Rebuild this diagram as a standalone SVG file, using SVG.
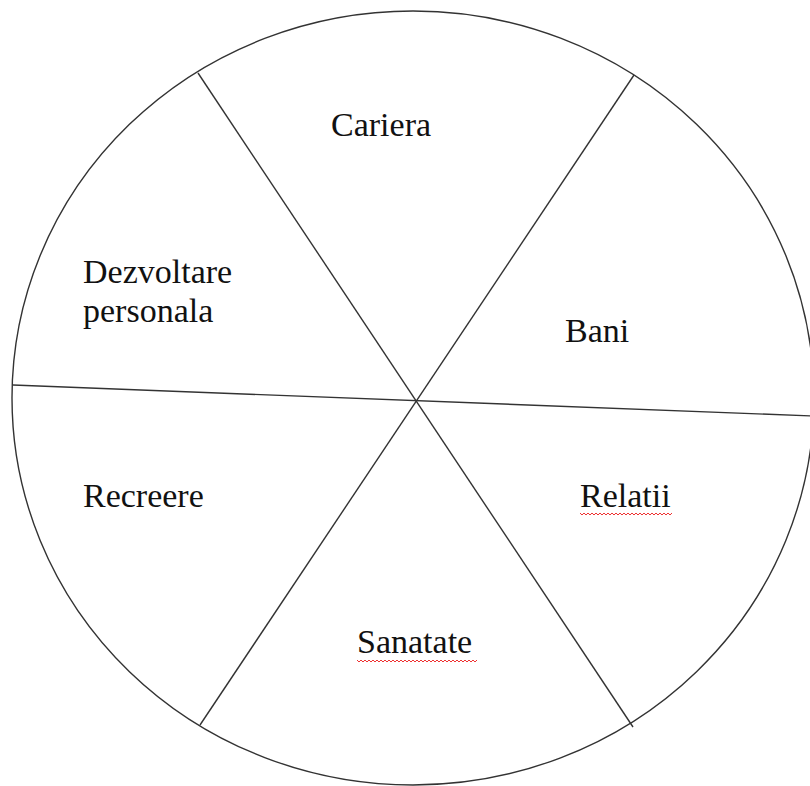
<svg xmlns="http://www.w3.org/2000/svg" width="810" height="786" viewBox="0 0 810 786">
<style>
.ln{stroke:#333;stroke-width:1.4;fill:none}
.lb{font-family:"Liberation Serif","Times New Roman",serif;font-size:34px;fill:#111}
.sq{stroke:#e33;stroke-width:1;fill:none}
</style>
<rect width="810" height="786" fill="#fff"/>
<g id="wheel">
<ellipse class="ln" cx="413" cy="398" rx="401" ry="387"/>
</g>
<g id="connectors">
<line class="ln" x1="198" y1="73" x2="633" y2="727"/>
<line class="ln" x1="634" y1="75" x2="200" y2="725"/>
<line class="ln" x1="13" y1="385" x2="812" y2="416"/>
</g>
<g id="cariera"><text class="lb" x="331" y="136">Cariera</text></g>
<g id="bani"><text class="lb" x="565" y="342">Bani</text></g>
<g id="dezvoltare"><text class="lb" x="83" y="283">Dezvoltare</text><text class="lb" x="83" y="322">personala</text></g>
<g id="recreere"><text class="lb" x="83" y="507">Recreere</text></g>
<g id="relatii"><text class="lb" x="580" y="507">Relatii</text>
<path class="sq" d="M580 513 l2 2 l2 -2 l2 2 l2 -2 l2 2 l2 -2 l2 2 l2 -2 l2 2 l2 -2 l2 2 l2 -2 l2 2 l2 -2 l2 2 l2 -2 l2 2 l2 -2 l2 2 l2 -2 l2 2 l2 -2 l2 2 l2 -2 l2 2 l2 -2 l2 2 l2 -2 l2 2 l2 -2 l2 2 l2 -2 l2 2 l2 -2 l2 2 l2 -2 l2 2 l2 -2 l2 2 l2 -2 l2 2 l2 -2 l2 2 l2 -2 l2 2 l2 -2"/></g>
<g id="sanatate"><text class="lb" x="357" y="653">Sanatate</text>
<path class="sq" d="M357 660 l2 2 l2 -2 l2 2 l2 -2 l2 2 l2 -2 l2 2 l2 -2 l2 2 l2 -2 l2 2 l2 -2 l2 2 l2 -2 l2 2 l2 -2 l2 2 l2 -2 l2 2 l2 -2 l2 2 l2 -2 l2 2 l2 -2 l2 2 l2 -2 l2 2 l2 -2 l2 2 l2 -2 l2 2 l2 -2 l2 2 l2 -2 l2 2 l2 -2 l2 2 l2 -2 l2 2 l2 -2 l2 2 l2 -2 l2 2 l2 -2 l2 2 l2 -2 l2 2 l2 -2 l2 2 l2 -2 l2 2 l2 -2 l2 2 l2 -2 l2 2 l2 -2 l2 2 l2 -2 l2 2 l2 -2"/></g>
</svg>
